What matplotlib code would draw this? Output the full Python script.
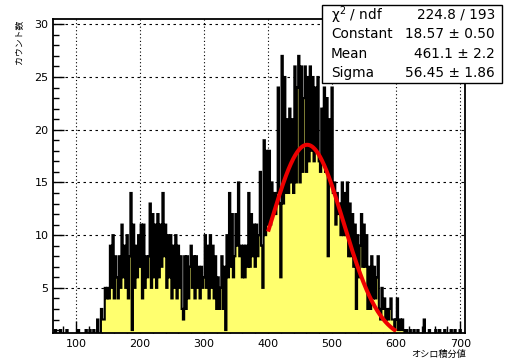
import numpy as np
import matplotlib
matplotlib.use("Agg")
import matplotlib.pyplot as plt
from matplotlib.ticker import MultipleLocator
from matplotlib.patches import Rectangle

# ---------------- data ----------------
bin_width = 2
hist_start = 61
hist_stop = 713
main_start = 139  # first bin of the dense part
counts_main = [
    3, 2, 2, 5, 4, 5, 4,                      # 139-153
    9, 5, 10, 4, 8, 6, 4, 8, 5, 11, 6,        # 153-175
    9, 5, 10, 4, 8, 14, 1, 11, 5, 9,          # 175-195
    6, 10, 7, 11, 4, 11, 5, 8, 6, 8,          # 195-215
    13, 5, 12, 6, 11, 5, 12, 6, 11, 7,        # 215-235
    14, 8, 11, 5, 10, 6, 10, 4, 9, 5,         # 235-255
    10, 4, 9, 5, 8, 3, 2, 8, 3, 8, 4, 7,      # 255-279
    9, 5, 8, 4, 8, 5, 7, 4, 7, 5, 6,          # 279-301
    10, 5, 9, 4, 10, 5, 9, 4, 8, 3,           # 301-321
    6, 3, 5, 8, 3, 7, 1, 10,                  # 321-337
    6, 14, 7, 12, 6, 8, 12, 9, 15, 8,         # 337-357
    9, 6, 9, 6, 9, 7, 14, 7, 12, 8, 11, 7,    # 357-381
    11, 8, 10, 16, 9, 5,                      # 381-393
    19, 10, 18, 11, 18, 11, 15, 12, 14, 12, 14,  # 393-415
    24, 13, 6, 27, 13, 25, 14, 21, 14, 22, 15, 21, 14,  # 415-441
    26, 15, 24, 27, 15, 26, 16, 23, 26, 16, 25,  # 441-463
    17, 26, 18, 25, 17, 24, 18, 25, 17,       # 463-481
    16, 22, 17, 24, 16, 23, 8, 21, 15, 24, 14,  # 481-503
    15, 11, 14, 12, 13, 10, 15, 10, 14, 10, 15,  # 503-525
    8, 13, 8, 12, 7, 11, 3, 10, 6, 9,         # 525-545
    12, 7, 11, 7, 10, 3, 7, 3, 8, 4,          # 545-565
    7, 4, 6, 8, 3, 2, 5, 3, 4, 2, 3,          # 565-587
    2, 3, 4, 2, 2, 1, 2, 4, 1, 2, 1, 2, 1,    # 587-613
]
sparse_x = [67, 76, 85, 103, 115, 121, 127, 133, 616, 622, 628, 634, 643, 652, 661, 667, 676, 685, 691, 700]
sparse_counts = [1, 1, 1, 1, 1, 1, 1, 2, 1, 1, 1, 1, 2, 1, 1, 1, 1, 1, 1, 1]

fit_constant = 18.57
fit_mean = 461.1
fit_sigma = 56.45
fit_range = (400, 600)

stats_labels = ["χ$^{2}$ / ndf", "Constant", "Mean", "Sigma"]
stats_values = ["224.8 / 193", "18.57 ± 0.50", "461.1 ± 2.2", "56.45 ± 1.86"]

x_title = "オシロ積分値"
y_title = "カウント数"

# ---------------- build histogram ----------------
edges = np.arange(hist_start, hist_stop + bin_width, bin_width)
counts = np.zeros(len(edges) - 1)
i0 = (main_start - hist_start) // bin_width
counts[i0:i0 + len(counts_main)] = counts_main
for xs, c in zip(sparse_x, sparse_counts):
    counts[(xs - hist_start) // bin_width] = c

# ---------------- figure ----------------
W, H = 505, 363
fig = plt.figure(figsize=(W / 100, H / 100), dpi=100)
ax_l, ax_r, ax_t, ax_b = 52.5, 465.5, 19.3, 333.0
ax = fig.add_axes([ax_l / W, 1 - ax_b / H, (ax_r - ax_l) / W, (ax_b - ax_t) / H])

ax.stairs(counts, edges, fill=True, color="#ffff6e", zorder=2, linewidth=0)
outline = ax.stairs(counts, edges, color="black", linewidth=1.5, zorder=3)
outline.set_snap(False)

xf = np.linspace(fit_range[0], fit_range[1], 400)
yf = fit_constant * np.exp(-0.5 * ((xf - fit_mean) / fit_sigma) ** 2)
ax.plot(xf, yf, color="#ee0000", linewidth=2.9, zorder=4, solid_capstyle="butt")

ax.set_xlim(63.4, 708.3)
ax.set_ylim(0.72, 30.47)

ax.xaxis.set_major_locator(MultipleLocator(100))
ax.xaxis.set_minor_locator(MultipleLocator(20))
ax.yaxis.set_major_locator(MultipleLocator(5))
ax.yaxis.set_minor_locator(MultipleLocator(1))

# grid
for xv in range(100, 701, 100):
    ax.axvline(xv, color="black", linewidth=0.8, linestyle=(0, (1, 2.2)), zorder=1.5)
for yv in range(5, 31, 5):
    ax.axhline(yv, color="black", linewidth=0.8, linestyle=(0, (2.2, 3.2)), zorder=1.5)

ax.tick_params(axis="both", which="both", direction="in", top=False, right=False,
               width=1.0, colors="black", labelsize=8)
ax.tick_params(axis="x", which="major", length=9, pad=4.3)
ax.tick_params(axis="x", which="minor", length=5)
ax.tick_params(axis="y", which="major", length=8, pad=3.0)
ax.tick_params(axis="y", which="minor", length=4)
for lab in ax.get_xticklabels() + ax.get_yticklabels():
    lab.set_family("DejaVu Sans")

for s in ax.spines.values():
    s.set_linewidth(1.3)
    s.set_zorder(6)

cjk = ["Noto Sans CJK JP", "DejaVu Sans"]
fig.text(466 / W, 1 - 354 / H, x_title, ha="right", va="center", fontsize=6.6, family=cjk)
fig.text(18.5 / W, 1 - 20 / H, y_title, ha="center", va="top", rotation=90, fontsize=6.4, family=cjk)

# stats box
bx0, bx1, by0, by1 = 322, 502, 5, 83
box = Rectangle((bx0 / W, 1 - by1 / H), (bx1 - bx0) / W, (by1 - by0) / H,
                transform=fig.transFigure, facecolor="white", edgecolor="black",
                linewidth=1.0, zorder=10)
fig.add_artist(box)
rows_y = [15, 34.3, 54, 73.3]
for lab, val, ry in zip(stats_labels, stats_values, rows_y):
    fig.text(331 / W, 1 - ry / H, lab, ha="left", va="center", fontsize=9.8,
             family="DejaVu Sans", zorder=11)
    fig.text(495 / W, 1 - ry / H, val, ha="right", va="center", fontsize=9.8,
             family="DejaVu Sans", zorder=11)

fig.savefig("out.png", dpi=100)
